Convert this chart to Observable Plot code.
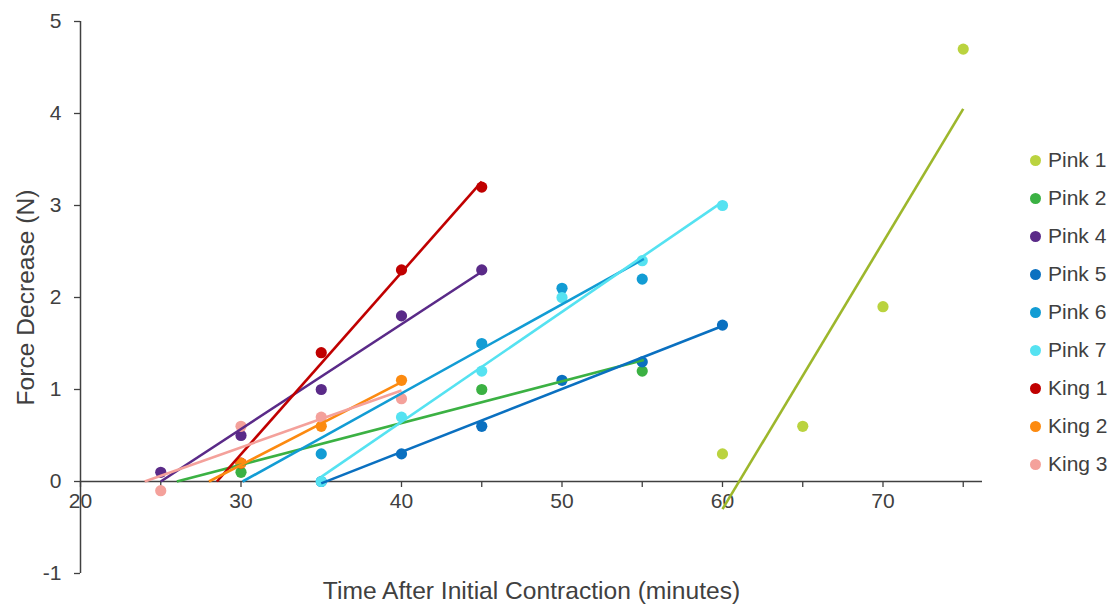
<!DOCTYPE html>
<html>
<head>
<meta charset="utf-8">
<script src="https://cdn.jsdelivr.net/npm/d3@7"></script>
<script src="https://cdn.jsdelivr.net/npm/@observablehq/plot@0.6"></script>
<style>
  body { margin: 0; background: #fff; }
  #wrap { position: relative; width: 1116px; height: 605px; font-family: "Liberation Sans", Arial, sans-serif; }
  #legend { position: absolute; left: 1030px; top: 141px; }
  .item { height: 38.04px; display: flex; align-items: center; font-size: 21px; color: #404040; white-space: nowrap; }
  .sw { width: 11px; height: 11px; border-radius: 50%; margin-right: 7px; flex: none; }
</style>
</head>
<body>
<div id="wrap"><div id="legend"></div></div>
<script>
// ---- Data ----
const seriesNames = ["Pink 1", "Pink 2", "Pink 4", "Pink 5", "Pink 6", "Pink 7", "King 1", "King 2", "King 3"];
const dotColors  = ["#bad33f", "#3bb143", "#5a2a88", "#0a70c0", "#129cd4", "#55e2f1", "#c00000", "#fc8a10", "#f4a19b"];
const lineColors = ["#9db72c", "#3bb143", "#5a2a88", "#0a70c0", "#129cd4", "#55e2f1", "#c00000", "#fc8a10", "#f4a19b"];

// time (minutes) and force decrease (N) per series
const pink1Time = [60, 65, 70, 75];            const pink1Force = [0.3, 0.6, 1.9, 4.7];
const pink2Time = [30, 45, 55];                const pink2Force = [0.1, 1.0, 1.2];
const pink4Time = [25, 30, 35, 40, 45];        const pink4Force = [0.1, 0.5, 1.0, 1.8, 2.3];
const pink5Time = [35, 40, 45, 50, 55, 60];    const pink5Force = [0.0, 0.3, 0.6, 1.1, 1.3, 1.7];
const pink6Time = [35, 45, 50, 55];            const pink6Force = [0.3, 1.5, 2.1, 2.2];
const pink7Time = [35, 40, 45, 50, 55, 60];    const pink7Force = [0.0, 0.7, 1.2, 2.0, 2.4, 3.0];
const king1Time = [30, 35, 40, 45];            const king1Force = [0.2, 1.4, 2.3, 3.2];
const king2Time = [30, 35, 40];                const king2Force = [0.2, 0.6, 1.1];
const king3Time = [25, 30, 35, 40];            const king3Force = [-0.1, 0.6, 0.7, 0.9];

// trendline end points (per series, same order)
const trendX0 = [60.0, 26.0, 25.0, 35.0, 30.1, 35.0, 28.5, 28.0, 24.0];
const trendY0 = [-0.30, 0.0, 0.0, -0.02, 0.0, 0.05, 0.0, 0.0, 0.0];
const trendX1 = [75.0, 55.1, 45.0, 60.0, 55.1, 60.0, 45.0, 40.0, 40.0];
const trendY1 = [4.05, 1.32, 2.28, 1.69, 2.42, 3.04, 3.26, 1.08, 0.99];

// axes
const xTickValues = [20, 25, 30, 35, 40, 45, 50, 55, 60, 65, 70, 75];
const xTickLabels = [20, 30, 40, 50, 60, 70];
const yTickValues = [-1, 0, 1, 2, 3, 4, 5];
const xTitle = "Time After Initial Contraction (minutes)";
const yTitle = "Force Decrease (N)";

// ---- Build tables ----
const timeArrays  = [pink1Time, pink2Time, pink4Time, pink5Time, pink6Time, pink7Time, king1Time, king2Time, king3Time];
const forceArrays = [pink1Force, pink2Force, pink4Force, pink5Force, pink6Force, pink7Force, king1Force, king2Force, king3Force];
const points = [];
seriesNames.forEach((name, i) => {
  timeArrays[i].forEach((t, j) => points.push({series: name, color: dotColors[i], x: t, y: forceArrays[i][j]}));
});
const trends = seriesNames.map((name, i) => ({
  series: name, color: lineColors[i], x1: trendX0[i], y1: trendY0[i], x2: trendX1[i], y2: trendY1[i]
}));

const axisColor = "#404040";
const chart = Plot.plot({
  width: 1116,
  height: 605,
  marginLeft: 80,
  marginRight: 134,
  marginTop: 21,
  marginBottom: 32,
  x: {domain: [20, 76.2], axis: null},
  y: {domain: [-1, 5], axis: null},
  color: {type: "identity"},
  style: {fontFamily: "'Liberation Sans', Arial, sans-serif", fontSize: "21px", color: axisColor, background: "#fff", overflow: "visible"},
  marks: [
    // axis lines
    Plot.ruleY([0], {stroke: axisColor, strokeWidth: 1.5}),
    Plot.ruleX([20], {stroke: axisColor, strokeWidth: 1.5}),
    // x ticks (below the y=0 axis line)
    Plot.ruleX(xTickValues, {x: d => d, y1: 0, y2: 0, insetBottom: -6, stroke: axisColor, strokeWidth: 1.3}),
    // y ticks (outward)
    Plot.ruleY(yTickValues, {y: d => d, x1: 20, x2: 20, insetLeft: -6, stroke: axisColor, strokeWidth: 1.3}),
    // tick labels
    Plot.text(xTickLabels, {x: d => d, y: 0, dy: 20, text: d => String(d), fill: axisColor}),
    Plot.text(yTickValues, {x: 20, y: d => d, dx: -19, textAnchor: "end", text: d => String(d), fill: axisColor}),
    // axis titles
    Plot.text([xTitle], {frameAnchor: "bottom", dy: 18, lineAnchor: "middle", textAnchor: "middle", text: d => d, fill: axisColor, fontSize: 24.6}),
    Plot.text([yTitle], {frameAnchor: "left", dx: -54, rotate: -90, lineAnchor: "middle", textAnchor: "middle", text: d => d, fill: axisColor, fontSize: 24.6}),
    // data points
    Plot.dot(points, {x: "x", y: "y", fill: "color", r: 5.6, stroke: "none"}),
    // trendlines
    Plot.link(trends, {x1: "x1", y1: "y1", x2: "x2", y2: "y2", stroke: "color", strokeWidth: 2.6})
  ]
});
document.getElementById("wrap").prepend(chart);

// legend
const legend = document.getElementById("legend");
seriesNames.forEach((name, i) => {
  const item = document.createElement("div");
  item.className = "item";
  const sw = document.createElement("span");
  sw.className = "sw";
  sw.style.background = dotColors[i];
  const lab = document.createElement("span");
  lab.textContent = name;
  item.append(sw, lab);
  legend.append(item);
});
</script>
</body>
</html>
